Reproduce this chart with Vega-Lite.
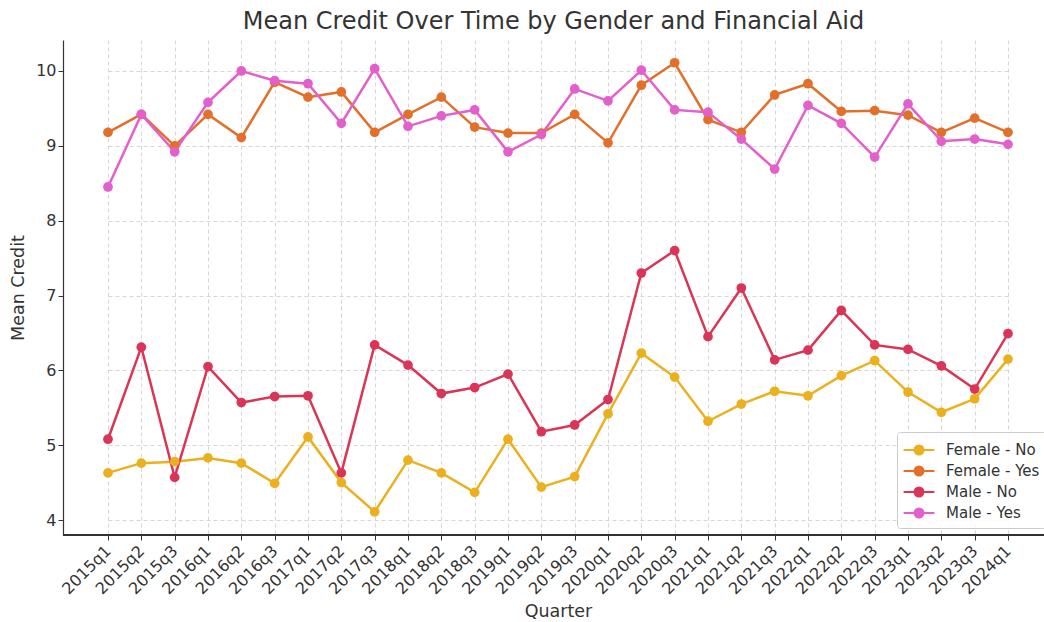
{
  "$schema": "https://vega.github.io/schema/vega-lite/v6.json",
  "autosize": {"type": "none"},
  "padding": {"left": 63, "top": 40, "right": 0, "bottom": 87},
  "width": 981,
  "height": 495,
  "background": "white",
  "title": {"text": "Mean Credit Over Time by Gender and Financial Aid", "fontSize": 24, "fontWeight": "normal", "font": "DejaVu Sans", "color": "#333333", "anchor": "middle", "offset": 6},
  "config": {
    "view": {"stroke": null},
    "font": "DejaVu Sans",
    "axis": {
      "labelFont": "DejaVu Sans", "titleFont": "DejaVu Sans",
      "labelFontSize": 16, "titleFontSize": 17.5, "labelColor": "#333333", "titleColor": "#333333",
      "titleFontWeight": "normal",
      "domainColor": "#333333", "domainWidth": 1.2, "tickColor": "#333333", "tickSize": 5,
      "gridColor": "#cccccc", "gridDash": [4, 3], "gridWidth": 0.8
    }
  },
  "data": {"values": [
    {"quarter":"2015q1","group":"Female - No","credit":4.63},
    {"quarter":"2015q2","group":"Female - No","credit":4.76},
    {"quarter":"2015q3","group":"Female - No","credit":4.78},
    {"quarter":"2016q1","group":"Female - No","credit":4.83},
    {"quarter":"2016q2","group":"Female - No","credit":4.76},
    {"quarter":"2016q3","group":"Female - No","credit":4.49},
    {"quarter":"2017q1","group":"Female - No","credit":5.11},
    {"quarter":"2017q2","group":"Female - No","credit":4.50},
    {"quarter":"2017q3","group":"Female - No","credit":4.11},
    {"quarter":"2018q1","group":"Female - No","credit":4.80},
    {"quarter":"2018q2","group":"Female - No","credit":4.63},
    {"quarter":"2018q3","group":"Female - No","credit":4.37},
    {"quarter":"2019q1","group":"Female - No","credit":5.08},
    {"quarter":"2019q2","group":"Female - No","credit":4.44},
    {"quarter":"2019q3","group":"Female - No","credit":4.58},
    {"quarter":"2020q1","group":"Female - No","credit":5.42},
    {"quarter":"2020q2","group":"Female - No","credit":6.23},
    {"quarter":"2020q3","group":"Female - No","credit":5.91},
    {"quarter":"2021q1","group":"Female - No","credit":5.32},
    {"quarter":"2021q2","group":"Female - No","credit":5.55},
    {"quarter":"2021q3","group":"Female - No","credit":5.72},
    {"quarter":"2022q1","group":"Female - No","credit":5.66},
    {"quarter":"2022q2","group":"Female - No","credit":5.93},
    {"quarter":"2022q3","group":"Female - No","credit":6.13},
    {"quarter":"2023q1","group":"Female - No","credit":5.71},
    {"quarter":"2023q2","group":"Female - No","credit":5.44},
    {"quarter":"2023q3","group":"Female - No","credit":5.62},
    {"quarter":"2024q1","group":"Female - No","credit":6.15},
    {"quarter":"2015q1","group":"Female - Yes","credit":9.18},
    {"quarter":"2015q2","group":"Female - Yes","credit":9.42},
    {"quarter":"2015q3","group":"Female - Yes","credit":9.00},
    {"quarter":"2016q1","group":"Female - Yes","credit":9.42},
    {"quarter":"2016q2","group":"Female - Yes","credit":9.11},
    {"quarter":"2016q3","group":"Female - Yes","credit":9.85},
    {"quarter":"2017q1","group":"Female - Yes","credit":9.65},
    {"quarter":"2017q2","group":"Female - Yes","credit":9.72},
    {"quarter":"2017q3","group":"Female - Yes","credit":9.18},
    {"quarter":"2018q1","group":"Female - Yes","credit":9.42},
    {"quarter":"2018q2","group":"Female - Yes","credit":9.65},
    {"quarter":"2018q3","group":"Female - Yes","credit":9.25},
    {"quarter":"2019q1","group":"Female - Yes","credit":9.17},
    {"quarter":"2019q2","group":"Female - Yes","credit":9.17},
    {"quarter":"2019q3","group":"Female - Yes","credit":9.42},
    {"quarter":"2020q1","group":"Female - Yes","credit":9.04},
    {"quarter":"2020q2","group":"Female - Yes","credit":9.81},
    {"quarter":"2020q3","group":"Female - Yes","credit":10.11},
    {"quarter":"2021q1","group":"Female - Yes","credit":9.35},
    {"quarter":"2021q2","group":"Female - Yes","credit":9.18},
    {"quarter":"2021q3","group":"Female - Yes","credit":9.68},
    {"quarter":"2022q1","group":"Female - Yes","credit":9.83},
    {"quarter":"2022q2","group":"Female - Yes","credit":9.46},
    {"quarter":"2022q3","group":"Female - Yes","credit":9.47},
    {"quarter":"2023q1","group":"Female - Yes","credit":9.41},
    {"quarter":"2023q2","group":"Female - Yes","credit":9.18},
    {"quarter":"2023q3","group":"Female - Yes","credit":9.37},
    {"quarter":"2024q1","group":"Female - Yes","credit":9.18},
    {"quarter":"2015q1","group":"Male - No","credit":5.08},
    {"quarter":"2015q2","group":"Male - No","credit":6.31},
    {"quarter":"2015q3","group":"Male - No","credit":4.57},
    {"quarter":"2016q1","group":"Male - No","credit":6.05},
    {"quarter":"2016q2","group":"Male - No","credit":5.57},
    {"quarter":"2016q3","group":"Male - No","credit":5.65},
    {"quarter":"2017q1","group":"Male - No","credit":5.66},
    {"quarter":"2017q2","group":"Male - No","credit":4.63},
    {"quarter":"2017q3","group":"Male - No","credit":6.34},
    {"quarter":"2018q1","group":"Male - No","credit":6.07},
    {"quarter":"2018q2","group":"Male - No","credit":5.69},
    {"quarter":"2018q3","group":"Male - No","credit":5.77},
    {"quarter":"2019q1","group":"Male - No","credit":5.95},
    {"quarter":"2019q2","group":"Male - No","credit":5.18},
    {"quarter":"2019q3","group":"Male - No","credit":5.27},
    {"quarter":"2020q1","group":"Male - No","credit":5.61},
    {"quarter":"2020q2","group":"Male - No","credit":7.30},
    {"quarter":"2020q3","group":"Male - No","credit":7.60},
    {"quarter":"2021q1","group":"Male - No","credit":6.45},
    {"quarter":"2021q2","group":"Male - No","credit":7.10},
    {"quarter":"2021q3","group":"Male - No","credit":6.14},
    {"quarter":"2022q1","group":"Male - No","credit":6.27},
    {"quarter":"2022q2","group":"Male - No","credit":6.80},
    {"quarter":"2022q3","group":"Male - No","credit":6.34},
    {"quarter":"2023q1","group":"Male - No","credit":6.28},
    {"quarter":"2023q2","group":"Male - No","credit":6.06},
    {"quarter":"2023q3","group":"Male - No","credit":5.75},
    {"quarter":"2024q1","group":"Male - No","credit":6.49},
    {"quarter":"2015q1","group":"Male - Yes","credit":8.45},
    {"quarter":"2015q2","group":"Male - Yes","credit":9.42},
    {"quarter":"2015q3","group":"Male - Yes","credit":8.92},
    {"quarter":"2016q1","group":"Male - Yes","credit":9.58},
    {"quarter":"2016q2","group":"Male - Yes","credit":10.00},
    {"quarter":"2016q3","group":"Male - Yes","credit":9.87},
    {"quarter":"2017q1","group":"Male - Yes","credit":9.83},
    {"quarter":"2017q2","group":"Male - Yes","credit":9.30},
    {"quarter":"2017q3","group":"Male - Yes","credit":10.03},
    {"quarter":"2018q1","group":"Male - Yes","credit":9.26},
    {"quarter":"2018q2","group":"Male - Yes","credit":9.40},
    {"quarter":"2018q3","group":"Male - Yes","credit":9.48},
    {"quarter":"2019q1","group":"Male - Yes","credit":8.92},
    {"quarter":"2019q2","group":"Male - Yes","credit":9.15},
    {"quarter":"2019q3","group":"Male - Yes","credit":9.76},
    {"quarter":"2020q1","group":"Male - Yes","credit":9.60},
    {"quarter":"2020q2","group":"Male - Yes","credit":10.01},
    {"quarter":"2020q3","group":"Male - Yes","credit":9.48},
    {"quarter":"2021q1","group":"Male - Yes","credit":9.45},
    {"quarter":"2021q2","group":"Male - Yes","credit":9.09},
    {"quarter":"2021q3","group":"Male - Yes","credit":8.69},
    {"quarter":"2022q1","group":"Male - Yes","credit":9.54},
    {"quarter":"2022q2","group":"Male - Yes","credit":9.30},
    {"quarter":"2022q3","group":"Male - Yes","credit":8.85},
    {"quarter":"2023q1","group":"Male - Yes","credit":9.56},
    {"quarter":"2023q2","group":"Male - Yes","credit":9.06},
    {"quarter":"2023q3","group":"Male - Yes","credit":9.09},
    {"quarter":"2024q1","group":"Male - Yes","credit":9.02}
  ]},
  "layer": [
    {
      "mark": {"type": "rule", "color": "#333333", "strokeWidth": 1.2},
      "encoding": {"y": {"datum": 3.8, "type": "quantitative"}}
    },
    {
      "mark": {"type": "line", "strokeWidth": 2.5, "point": {"filled": true, "size": 95, "opacity": 1}},
      "encoding": {
        "x": {"field": "quarter", "type": "ordinal", "sort": null,
          "scale": {"type": "point", "range": [45, 945], "padding": 0},
          "axis": {"title": "Quarter", "domain": false, "labelAngle": -45, "labelAlign": "right", "labelBaseline": "middle", "labelPadding": 8, "titlePadding": 6, "grid": true}},
        "y": {"field": "credit", "type": "quantitative",
          "scale": {"domain": [3.8, 10.414], "nice": false, "zero": false},
          "axis": {"title": "Mean Credit", "values": [4, 5, 6, 7, 8, 9, 10], "format": "d", "titlePadding": 8, "grid": true}},
        "color": {"field": "group", "type": "nominal",
          "scale": {"domain": ["Female - No", "Female - Yes", "Male - No", "Male - Yes"], "range": ["#EBB01E", "#E2702B", "#DA3557", "#E35FCB"]},
          "legend": {"title": null, "orient": "none", "legendX": 834, "legendY": 392,
            "symbolType": "M-1.4,0H1.4M0.41,0A0.41,0.41 0 1,1 -0.41,0A0.41,0.41 0 1,1 0.41,0Z",
            "symbolSize": 484, "symbolStrokeWidth": 2, "symbolOffset": 4, "labelOffset": 15, "labelFontSize": 15, "labelColor": "#333333", "labelFont": "DejaVu Sans",
            "strokeColor": "#cccccc", "fillColor": "rgba(255,255,255,0.85)", "padding": 6, "cornerRadius": 3, "rowPadding": 0,
            "encode": {"symbols": {"update": {"fill": {"scale": "color", "field": "value"}, "stroke": {"scale": "color", "field": "value"}}}}}}
      }
    }
  ]
}
